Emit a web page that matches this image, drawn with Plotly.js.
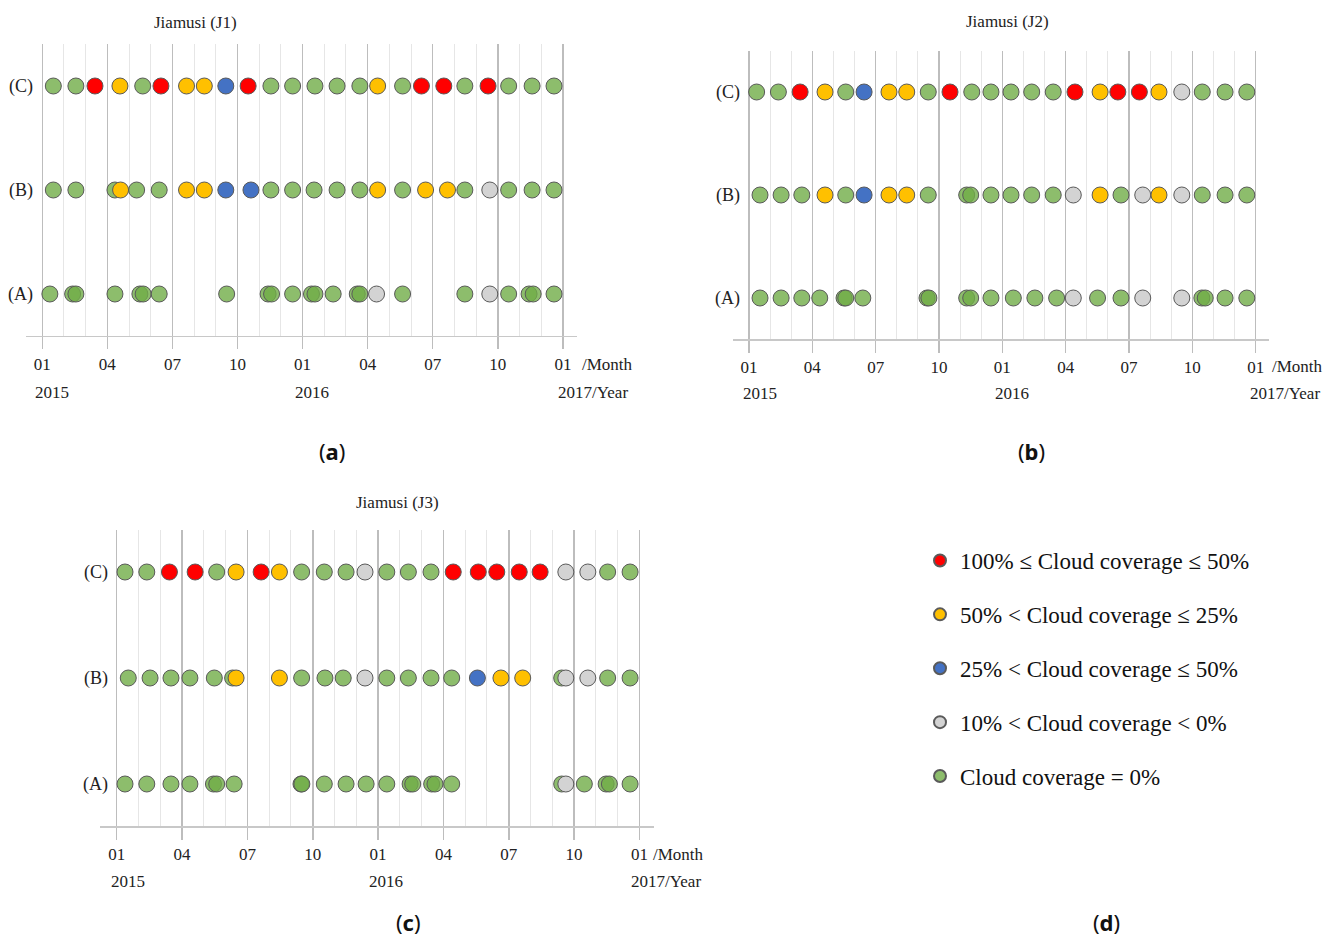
<!DOCTYPE html>
<html><head><meta charset="utf-8">
<script src="https://cdn.plot.ly/plotly-3.0.1.min.js"></script>
<style>html,body{margin:0;padding:0;background:#fff}</style>
</head><body>
<div id="chart" style="width:1336px;height:937px"></div>
<script>
// ---------- DATA ----------
const monthTicks = [0, 3, 6, 9, 12, 15, 18, 21, 24];
const monthLabels = ['01', '04', '07', '10', '01', '04', '07', '10', '01'];
const yearLabels = ['2015', '2016', '2017/Year'];
const rowLabels = ['(A)', '(B)', '(C)'];
const siteTitles = ['Jiamusi (J1)', 'Jiamusi (J2)', 'Jiamusi (J3)'];
const classKeys = ['R', 'Y', 'B', 'W', 'G'];
const classNames = [
  '100% ≤ Cloud coverage ≤ 50%',
  '50% &lt; Cloud coverage ≤ 25%',
  '25% &lt; Cloud coverage ≤ 50%',
  '10% &lt; Cloud coverage &lt; 0%',
  'Cloud coverage = 0%'
];

// months since Jan 2015 ; class of each acquisition
const j1A_month = [0.35,1.40,1.55,3.35,4.50,4.65,5.39,8.50,10.41,10.57,11.54,12.41,12.57,13.41,14.52,14.64,15.41,16.61,19.48,20.63,21.5,22.44,22.63,23.59];
const j1A_class = ['G','G','G','G','G','G','G','G','G','G','G','G','G','G','G','G','W','G','G','W','G','G','G','G'];
const j1B_month = [0.51,1.55,3.35,3.61,4.35,5.39,6.65,7.47,8.46,9.62,10.54,11.54,12.53,13.59,14.64,15.46,16.61,17.67,18.68,19.48,20.63,21.5,22.58,23.59];
const j1B_class = ['G','G','G','Y','G','G','Y','Y','B','B','G','G','G','G','G','Y','G','Y','Y','G','W','G','G','G'];
const j1C_month = [0.51,1.55,2.43,3.58,4.63,5.47,6.65,7.47,8.46,9.49,10.54,11.54,12.57,13.59,14.64,15.46,16.61,17.48,18.51,19.48,20.55,21.5,22.58,23.59];
const j1C_class = ['G','G','R','Y','G','R','Y','Y','B','R','G','G','G','G','G','Y','G','R','R','G','R','G','G','G'];

const j2A_month = [0.52,1.52,2.50,3.35,4.50,4.58,5.39,8.43,8.52,10.31,10.50,11.46,12.52,13.54,14.57,15.36,16.51,17.62,18.65,20.50,21.45,21.61,22.55,23.58];
const j2A_class = ['G','G','G','G','G','G','G','G','G','G','G','G','G','G','G','W','G','G','W','W','G','G','G','G'];
const j2B_month = [0.52,1.52,2.50,3.60,4.58,5.45,6.63,7.47,8.49,10.31,10.50,11.46,12.41,13.39,14.41,15.36,16.63,17.62,18.65,19.42,20.50,21.47,22.55,23.58];
const j2B_class = ['G','G','G','Y','G','B','Y','Y','G','G','G','G','G','G','G','W','Y','G','W','Y','W','G','G','G'];
const j2C_month = [0.36,1.39,2.42,3.60,4.58,5.45,6.63,7.47,8.49,9.52,10.55,11.46,12.41,13.39,14.41,15.44,16.63,17.47,18.49,19.42,20.50,21.47,22.55,23.58];
const j2C_class = ['G','G','R','Y','G','B','Y','Y','G','R','G','G','G','G','G','R','Y','R','R','Y','W','G','G','G'];

const j3A_month = [0.38,1.38,2.49,3.36,4.44,4.59,5.39,8.46,8.50,9.53,10.53,11.45,12.40,13.47,13.59,14.46,14.61,15.38,20.43,20.62,21.47,22.47,22.62,23.57];
const j3A_class = ['G','G','G','G','G','G','G','G','G','G','G','G','G','G','G','G','G','G','G','W','G','G','G','G'];
const j3B_month = [0.53,1.53,2.49,3.36,4.48,5.32,5.48,7.47,8.49,9.56,10.40,11.40,12.40,13.39,14.43,15.38,16.56,17.64,18.64,20.43,20.62,21.63,22.54,23.57];
const j3B_class = ['G','G','G','G','G','G','Y','Y','G','G','G','W','G','G','G','G','B','Y','Y','G','W','W','G','G'];
const j3C_month = [0.38,1.38,2.42,3.60,4.59,5.48,6.63,7.47,8.49,9.53,10.53,11.40,12.40,13.39,14.43,15.45,16.60,17.45,18.48,19.44,20.62,21.63,22.54,23.57];
const j3C_class = ['G','G','R','R','G','Y','R','Y','G','G','G','W','G','G','G','R','R','R','R','R','W','W','G','G'];

// ---------- STYLE ----------
const classColors = {R:'#ff0000', Y:'#ffc000', B:'#4472c4', W:'#d3d3d3', G:'rgba(112,173,71,0.8)'};
const drawOrder = ['G','W','Y','B','R'];
const W = 1336, H = 937;
const px = v => v / W, py = v => 1 - v / H;
const serif = 'Liberation Serif, Times New Roman, serif';

const sites = [
  {rows: [[j1A_month,j1A_class],[j1B_month,j1B_class],[j1C_month,j1C_class]]},
  {rows: [[j2A_month,j2A_class],[j2B_month,j2B_class],[j2C_month,j2C_class]]},
  {rows: [[j3A_month,j3A_class],[j3B_month,j3B_class],[j3C_month,j3C_class]]}
];
// pixel boxes of the three panels
const boxes = [
  {x0:26, x1:577, y0:44.4, y1:335.6, tX:195, tY:22, yearY:392, yearX:[52,312,593], monX:607, monY:364, tag:'a', tagX:332, tagY:451},
  {x0:733.2, x1:1269.4, y0:50.8, y1:339.2, tX:1008, tY:21, yearY:393, yearX:[760,1012,1285], monX:1297, monY:366, tag:'b', tagX:1031, tagY:451},
  {x0:100.4, x1:653.6, y0:529.6, y1:826.4, tX:397, tY:503, yearY:881, yearX:[128,386,666], monX:678, monY:854, tag:'c', tagX:408, tagY:922}
];

const traces = [];
const layout = {
  width: W, height: H, margin: {l:0, r:0, t:0, b:0},
  paper_bgcolor: '#fff', plot_bgcolor: '#fff',
  hovermode: false, showlegend: true,
  font: {family: serif, color: '#1a1a1a'},
  legend: {x: px(920), xanchor: 'left', y: py(539), yanchor: 'top',
           font: {family: serif, size: 23, color: '#111'},
           tracegroupgap: 21, itemsizing: 'constant', bgcolor: 'rgba(0,0,0,0)'},
  annotations: []
};

sites.forEach((site, i) => {
  const sfx = i === 0 ? '' : String(i + 1);
  const b = boxes[i];
  drawOrder.forEach(k => {
    const xs = [], ys = [];
    site.rows.forEach((r, ri) => {
      r[0].forEach((m, j) => { if (r[1][j] === k) { xs.push(m); ys.push(ri + 1); } });
    });
    const ci = classKeys.indexOf(k);
    traces.push({
      type: 'scatter', mode: 'markers', x: xs, y: ys,
      xaxis: 'x' + sfx, yaxis: 'y' + sfx,
      name: classNames[ci], legendgroup: k, legendrank: ci + 1,
      showlegend: i === 0,
      marker: {size: 16, color: classColors[k], line: {color: '#5a5a5a', width: 1}},
      cliponaxis: false
    });
  });
  layout['xaxis' + sfx] = {
    domain: [px(b.x0), px(b.x1)], anchor: 'y' + sfx,
    range: [-0.75, 24.65], fixedrange: true,
    tickmode: 'array', tickvals: monthTicks, ticktext: monthLabels,
    showgrid: true, gridcolor: '#bdbdbd', gridwidth: 1.5, zeroline: false,
    showline: true, linecolor: '#c8c8c8', linewidth: 1.5,
    ticks: 'outside', ticklen: 12, tickwidth: 1.5, tickcolor: '#bdbdbd',
    tickfont: {family: serif, size: 17, color: '#222'},
    minor: {tickmode: 'linear', tick0: 0, dtick: 1, showgrid: true, gridcolor: '#e6e6e6', gridwidth: 1, ticks: ''}
  };
  layout['yaxis' + sfx] = {
    domain: [py(b.y1), py(b.y0)], anchor: 'x' + sfx,
    range: [0.6, 3.4], fixedrange: true,
    showgrid: false, zeroline: false, showline: false, showticklabels: false, ticks: ''
  };
  // title
  layout.annotations.push({xref:'paper', yref:'paper', x:px(b.tX), y:py(b.tY), text:siteTitles[i],
    showarrow:false, xanchor:'center', yanchor:'middle', font:{family:serif, size:17, color:'#222'}});
  // row labels
  rowLabels.forEach((t, ri) => layout.annotations.push({xref:'x'+sfx, yref:'y'+sfx, x:-0.32, y:ri+1, text:t,
    showarrow:false, xanchor:'right', yanchor:'middle', font:{family:serif, size:18, color:'#222'}}));
  // year labels
  yearLabels.forEach((t, yi) => layout.annotations.push({xref:'paper', yref:'paper', x:px(b.yearX[yi]), y:py(b.yearY), text:t,
    showarrow:false, xanchor:'center', yanchor:'middle', font:{family:serif, size:17, color:'#222'}}));
  layout.annotations.push({xref:'paper', yref:'paper', x:px(b.monX), y:py(b.monY), text:'/Month',
    showarrow:false, xanchor:'center', yanchor:'middle', font:{family:serif, size:17, color:'#222'}});
  // panel tag
  layout.annotations.push({xref:'paper', yref:'paper', x:px(b.tagX), y:py(b.tagY), text:'(<b>'+b.tag+'</b>)',
    showarrow:false, xanchor:'center', yanchor:'middle', font:{family:'Noto Sans, sans-serif', size:22, color:'#111'}});
});
layout.annotations.push({xref:'paper', yref:'paper', x:px(1106), y:py(922), text:'(<b>d</b>)',
  showarrow:false, xanchor:'center', yanchor:'middle', font:{family:'Noto Sans, sans-serif', size:22, color:'#111'}});

Plotly.newPlot('chart', traces, layout, {displayModeBar: false, staticPlot: true});
</script>
</body></html>
